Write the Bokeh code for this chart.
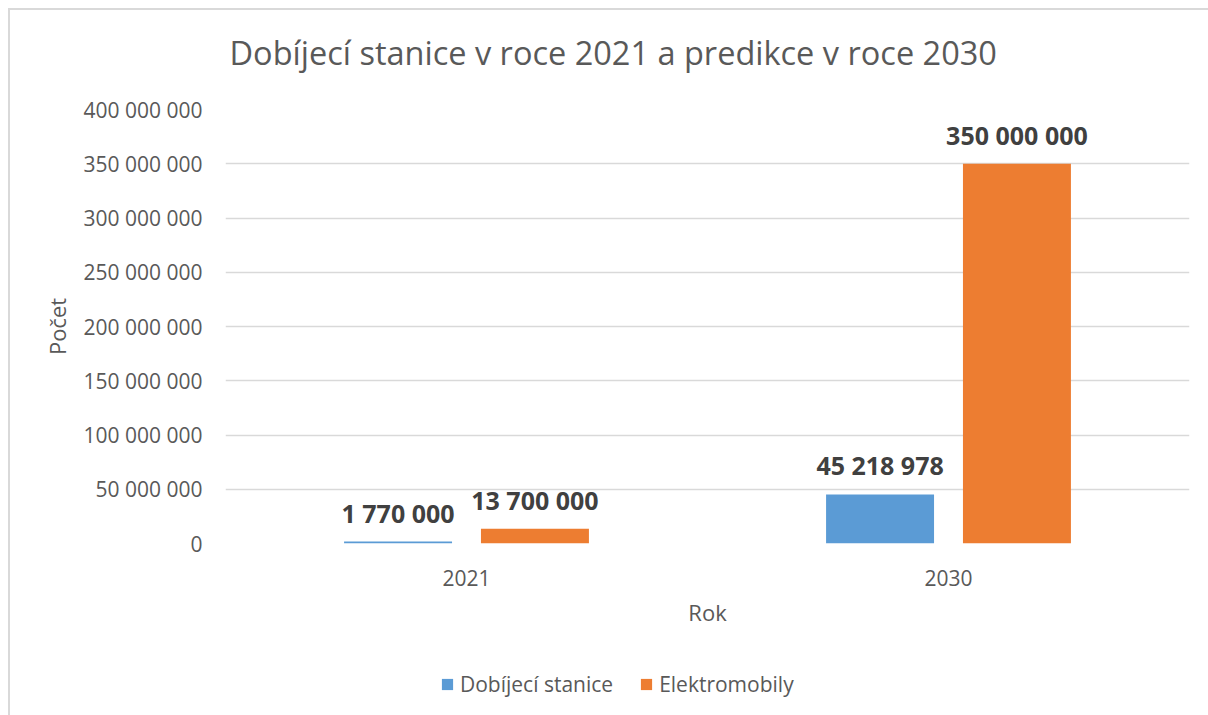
from bokeh.plotting import figure
from bokeh.layouts import column
from bokeh.models import ColumnDataSource, FactorRange, Range1d, Legend, LegendItem, FixedTicker
from bokeh.transform import dodge
from bokeh.embed import file_html
from bokeh.resources import INLINE
from bokeh.core.properties import value

# --- data ---
years = ["2021", "2030"]
stanice = [1770000, 45218978]
elektromobily = [13700000, 350000000]
series_names = ["Dobíjecí stanice", "Elektromobily"]
y_ticks = [0, 50000000, 100000000, 150000000, 200000000,
           250000000, 300000000, 350000000, 400000000]
y_tick_labels = ["0", "50 000 000", "100 000 000", "150 000 000", "200 000 000",
                 "250 000 000", "300 000 000", "350 000 000", "400 000 000"]

FONT = "Open Sans"
TEXT = "#595959"
COLORS = ["#5B9BD5", "#ED7D31"]
W = 0.224      # bar width (category units)
OFF = 0.142    # bar offset from category centre


def fmt(v):
    return f"{v:,}".replace(",", " ")


src = ColumnDataSource(dict(
    year=years,
    stanice=stanice,
    elektro=elektromobily,
    stanice_lbl=[fmt(v) for v in stanice],
    elektro_lbl=[fmt(v) for v in elektromobily],
))

xr = FactorRange(*years, range_padding=0)


def strip(height):
    # a bare figure (no axes, grid or outline) used for the title and legend rows;
    # its y range sits above every bar so nothing is drawn in its frame
    f = figure(x_range=xr, y_range=Range1d(5e8, 6e8),
               width=1198, height=height, output_backend="svg", toolbar_location=None,
               min_border=0, min_border_left=0, min_border_right=0,
               min_border_top=0, min_border_bottom=0)
    f.axis.visible = False
    f.grid.visible = False
    f.outline_line_color = None
    f.border_fill_color = "white"
    f.background_fill_color = "white"
    return f


# --- title strip ---
tf = strip(84)
tf.title.text = "Dobíjecí stanice v roce 2021 a predikce v roce 2030"
tf.title.text_font = FONT
tf.title.text_font_size = "32.5px"
tf.title.text_font_style = "normal"
tf.title.text_color = TEXT
tf.title.align = "left"
tf.title.offset = 4
tf.title.standoff = 35

# --- main chart ---
p = figure(
    x_range=xr,
    y_range=Range1d(0, 400000000),
    width=1198, height=556,
    output_backend="svg", toolbar_location=None,
    min_border_left=215, min_border_right=19,
    min_border_top=15, min_border_bottom=107,
)
p.outline_line_color = None
p.background_fill_color = "white"
p.border_fill_color = "white"

r_st = p.vbar(x=dodge("year", -OFF, range=xr), top="stanice", width=W,
              source=src, fill_color=COLORS[0], line_color=None)
r_el = p.vbar(x=dodge("year", OFF, range=xr), top="elektro", width=W,
              source=src, fill_color=COLORS[1], line_color=None)

# value labels above the bars
for col, off in (("stanice", -OFF), ("elektro", OFF)):
    p.text(x=dodge("year", off, range=xr), y=col, text=col + "_lbl", source=src,
           text_font=value(FONT), text_font_style="bold", text_font_size="25px",
           text_color="#404040", text_align="center", text_baseline="middle",
           y_offset=-29)

# y axis
ya = p.yaxis[0]
ya.ticker = FixedTicker(ticks=y_ticks)
ya.major_label_overrides = {t: l for t, l in zip(y_ticks, y_tick_labels)}
ya.major_label_text_font = FONT
ya.major_label_text_font_size = "21px"
ya.major_label_text_color = TEXT
ya.major_label_standoff = 17
ya.axis_line_color = None
ya.major_tick_line_color = None
ya.minor_tick_line_color = None
ya.axis_label = "Počet"
ya.axis_label_text_font = FONT
ya.axis_label_text_font_size = "22px"
ya.axis_label_text_font_style = "normal"
ya.axis_label_text_color = TEXT
ya.axis_label_standoff = 9

# x axis
xa = p.xaxis[0]
xa.major_label_text_font = FONT
xa.major_label_text_font_size = "21px"
xa.major_label_text_color = TEXT
xa.major_label_standoff = 20
xa.axis_line_color = None
xa.major_tick_line_color = None
xa.minor_tick_line_color = None
xa.axis_label = "Rok"
xa.axis_label_text_font = FONT
xa.axis_label_text_font_size = "22px"
xa.axis_label_text_font_style = "normal"
xa.axis_label_text_color = TEXT
xa.axis_label_standoff = 8

# grid
p.xgrid.grid_line_color = None
p.ygrid.grid_line_color = "#d9d9d9"
p.ygrid.grid_line_width = 1.3

# --- legend strip: the same series, out of its y range, provide the swatches ---
lf = strip(65)
items = []
for name, col, off, color in zip(series_names, ("stanice", "elektro"), (-OFF, OFF), COLORS):
    r = lf.vbar(x=dodge("year", off, range=xr), top=col, width=W,
                source=src, fill_color=color, line_color=None)
    items.append(LegendItem(label=name, renderers=[r]))

legend = Legend(
    items=items,
    orientation="horizontal",
    location=(215, 17),
    glyph_width=14, glyph_height=14,
    label_standoff=6, spacing=26,
    padding=0, margin=0,
    label_text_font=FONT, label_text_font_size="21px", label_text_color=TEXT,
    border_line_color=None, background_fill_alpha=0,
)
lf.add_layout(legend, "center")

page = column(tf, p, lf, spacing=0)
page.styles = {
    "margin-left": "8px", "margin-top": "8px",
    "border-left": "2px solid #d9d9d9", "border-top": "2px solid #d9d9d9",
}

open("out.html", "w").write(file_html(page, INLINE))
